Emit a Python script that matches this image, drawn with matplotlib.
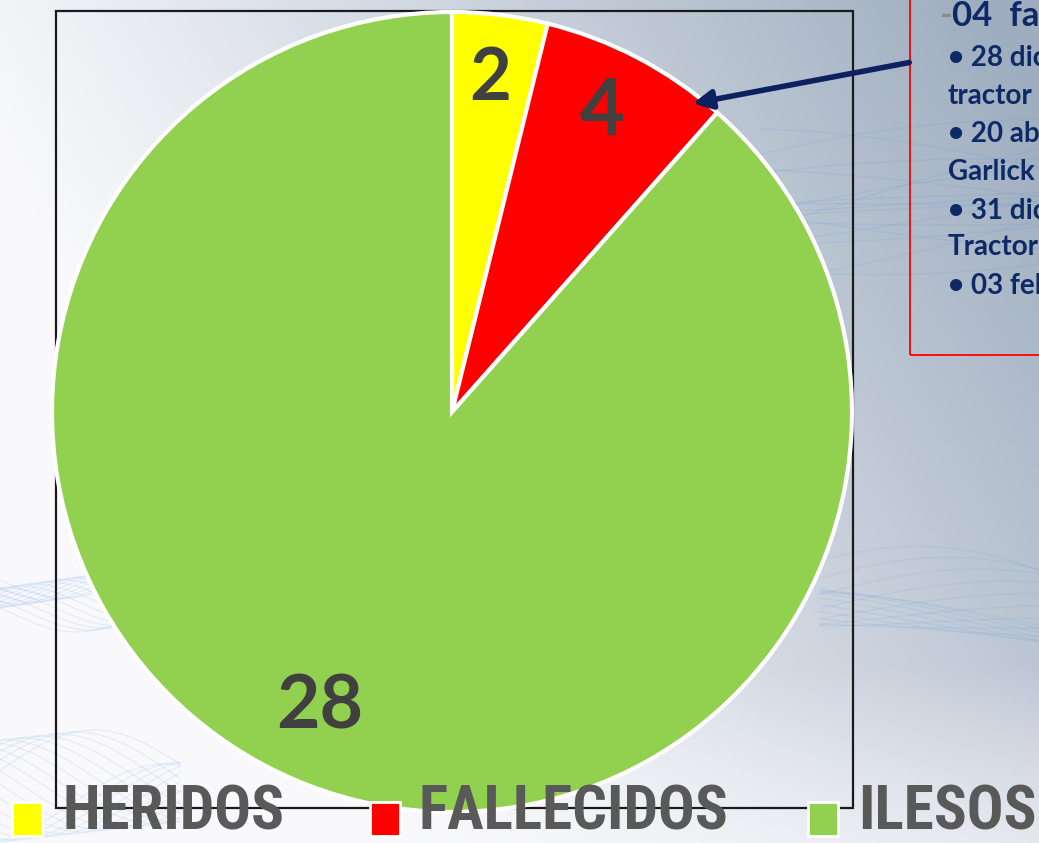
import numpy as np
import matplotlib
matplotlib.use("Agg")
import matplotlib.pyplot as plt
from matplotlib.patches import Rectangle, FancyArrowPatch
from matplotlib import font_manager

# ---- data ----
categories = ["HERIDOS", "FALLECIDOS", "ILESOS"]
slice_shares = [2, 4, 46]          # slice sizes as drawn in the picture
value_labels = ["2", "4", "28"]    # numbers printed on the slices
colors = ["#FFFF00", "#FF0000", "#92D050"]
note_lines = ["-04  fallecidos",
              "• 28 diciembre",
              "tractor",
              "• 20 abril",
              "Garlick",
              "• 31 diciembre",
              "Tractor",
              "• 03 febrero"]

names = {f.name for f in font_manager.fontManager.ttflist}
narrow = next((n for n in ["Roboto Condensed", "Open Sans Condensed",
                           "Liberation Sans Narrow", "Roboto"] if n in names), "Lato")

W, H = 1039, 843
fig = plt.figure(figsize=(W / 100, H / 100), dpi=100)

# background gradient
bg = fig.add_axes([0, 0, 1, 1])
bg.set_axis_off()
yy, xx = np.mgrid[0:1:200j, 0:1:260j]   # yy: 0 top -> 1 bottom
t = np.clip(0.95 * xx + 0.45 * (1 - yy) - 0.35, 0, 1)
t = t * np.clip(1.25 - 0.9 * np.clip(yy - 0.7, 0, 1) * 3, 0, 1)
t = np.clip(t, 0, 1) ** 1.1
c0 = np.array([0.98, 0.98, 0.99])
c1 = np.array([0.62, 0.68, 0.75])
img = c0[None, None, :] * (1 - t[..., None]) + c1[None, None, :] * t[..., None]
bg.imshow(img, extent=[0, W, 0, H], origin="upper", aspect="auto")
# decorative blue waves
xs = np.linspace(0, W, 400)
for k in range(16):
    ys = H - (215 + 6 * k * np.sin(xs / 300 + k) - 0.05 * (xs - 780))
    m = xs > 760
    bg.plot(xs[m], ys[m], color="#3a86e0", alpha=0.10, lw=1.0)
for k in range(16):
    ys = H - (640 - 50 * np.cos((xs - 760) / 220) + k * 4 * np.sin(xs / 150 + k * 0.3))
    m = xs > 820
    bg.plot(xs[m], ys[m], color="#3a86e0", alpha=0.09, lw=1.0)
xl = np.linspace(0, 180, 200)
for k in range(18):
    ys = H - (580 + 18 * np.sin(xl / 40 + k * 0.35) + k * 2)
    bg.plot(xl, ys, color="#3a86e0", alpha=0.10, lw=1.0)
    ys2 = H - (770 - 40 * np.sin(xl / 60 + k * 0.3) + k * 2)
    bg.plot(xl, ys2, color="#3a86e0", alpha=0.10, lw=1.0)
bg.set_xlim(0, W)
bg.set_ylim(0, H)

# main axes in pixel coordinates
ax = fig.add_axes([0, 0, 1, 1])
ax.set_xlim(0, W)
ax.set_ylim(0, H)
ax.set_axis_off()

ax.add_patch(Rectangle((56, H - 808), 797, 797, fill=False, edgecolor="#1a1a1a",
                       lw=1.6, zorder=1))

cx, cy, r = 452, H - 412, 400
wedges, _ = ax.pie(slice_shares, colors=colors, startangle=90, counterclock=False,
                   center=(cx, cy), radius=r, frame=True,
                   wedgeprops=dict(edgecolor="white", linewidth=3))
for w in wedges:
    w.set_zorder(2)
ax.set_xlim(0, W)
ax.set_ylim(0, H)
ax.set_aspect("auto")
ax.set_axis_off()

label_pos = [(490, H - 80), (602, H - 113), (320, H - 707)]
label_sizes = [52, 56, 54]
for (x, y), s, fs in zip(label_pos, value_labels, label_sizes):
    ax.text(x, y, s, ha="center", va="center", fontsize=fs, fontweight="bold",
            color="#404040", family="Lato", zorder=5)

# legend
leg_x = [12, 370, 808]
txt_x = [62, 418, 858]
for mx, tx, col, name in zip(leg_x, txt_x, colors, categories):
    ax.add_patch(Rectangle((mx, H - 836), 30, 34, facecolor=col, edgecolor="white",
                           lw=2, zorder=6))
    ax.text(tx, 1, name, ha="left", va="bottom", fontsize=44,
            fontweight="bold", color="#595959", family=narrow, zorder=6)

# note box (clipped at right edge, as in the original slide)
ax.add_patch(Rectangle((910, H - 355), 200, 370, fill=False, edgecolor="#FF0000",
                       lw=1.3, zorder=4, clip_on=False))
note_y = [16, 58, 96, 134, 172, 211, 247, 286]
for i, (line, y) in enumerate(zip(note_lines, note_y)):
    if i == 0:
        ax.text(940, H - y, "-", ha="left", va="center", fontsize=25,
                fontweight="bold", color="#8c8c8c", family="Lato", zorder=5)
        ax.text(952, H - y, line[1:], ha="left", va="center", fontsize=25,
                fontweight="bold", color="#0d2a66", family="Lato", zorder=5)
    else:
        ax.text(948, H - y, line, ha="left", va="center", fontsize=20,
                fontweight="bold", color="#0d2a66", family="Lato", zorder=5)

# arrow to the red slice
ax.add_patch(FancyArrowPatch((912, H - 62), (690, H - 104), arrowstyle="-|>",
                             mutation_scale=28, color="#0d2060", lw=4, zorder=7))

fig.savefig("out.png", dpi=100)
